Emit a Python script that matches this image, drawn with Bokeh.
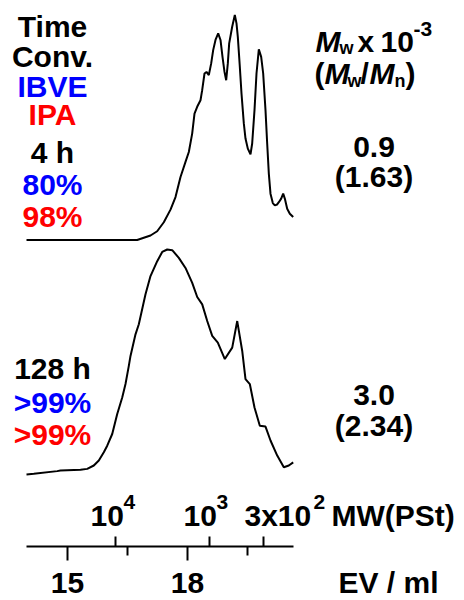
from bokeh.plotting import figure
from bokeh.models import Range1d, LinearAxis, FixedTicker
from bokeh.embed import file_html
from bokeh.resources import INLINE
from bokeh.core.properties import value

# ---------------- data ----------------
EV_4H = [13.975, 16.575, 16.742, 16.908, 17.075, 17.242, 17.408, 17.575, 17.700,
         17.825, 17.950, 18.033, 18.117, 18.175, 18.242, 18.325, 18.367, 18.425,
         18.475, 18.533, 18.592, 18.642, 18.700, 18.767, 18.825, 18.875, 18.925,
         18.967, 19.008, 19.042, 19.117, 19.183, 19.225, 19.258, 19.308, 19.350,
         19.408, 19.450, 19.508, 19.575, 19.617, 19.675, 19.725, 19.783, 19.842,
         19.892, 19.950, 19.992, 20.033, 20.075, 20.133, 20.183, 20.242, 20.283,
         20.342, 20.392, 20.433, 20.492, 20.558, 20.642]
I_4H = [0.0, 0.0, 0.0, 1.0, 2.0, 3.9, 7.9, 13.5, 19.1,
        28.0, 34.7, 39.1, 47.3, 56.2, 59.2, 62.1, 66.6, 74.0,
        74.7, 73.3, 78.5, 84.4, 88.9, 91.8, 88.9, 81.4, 74.7,
        71.0, 78.5, 87.4, 94.8, 100.0, 96.3, 90.3, 77.0, 65.1,
        51.8, 45.1, 40.6, 38.1, 42.9, 57.7, 74.0, 84.7, 81.4,
        74.0, 57.7, 42.9, 29.5, 20.6, 16.4, 15.4, 15.8, 16.8,
        18.4, 20.6, 18.4, 13.9, 11.7, 10.2]

EV_128H = [13.975, 14.158, 14.743, 14.825, 15.325, 15.493, 15.658, 15.783, 15.908,
           15.993, 16.118, 16.243, 16.368, 16.450, 16.533, 16.575, 16.700, 16.783,
           16.950, 17.075, 17.243, 17.368, 17.493, 17.618, 17.783, 17.950, 18.118,
           18.243, 18.368, 18.493, 18.618, 18.758, 18.933, 19.118, 19.243, 19.368,
           19.450, 19.558, 19.675, 19.808, 19.950, 20.075, 20.243, 20.408, 20.533,
           20.643]
I_128H = [0.0, 0.3, 1.5, 1.8, 2.1, 2.5, 4.0, 6.2, 9.9,
          12.8, 18.0, 26.9, 34.2, 40.2, 48.3, 52.7, 62.3, 66.8,
          80.1, 88.2, 94.8, 98.9, 100.0, 99.7, 96.3, 91.8, 85.2,
          78.9, 75.6, 68.2, 61.6, 58.6, 51.3, 56.4, 68.2, 54.9,
          42.4, 40.2, 29.8, 21.7, 21.3, 15.1, 8.4, 3.2, 4.0,
          5.4]

EV_TICKS = [15, 18]
EV_TICK_LABELS = ["15", "18"]
EV_MINOR_TICKS = [16.5, 19.5]
MW_TICK_EV = [16.21, 18.56, 19.91]
MW_TICK_MANTISSA = ["10", "10", "3x10"]
MW_TICK_EXPONENT = ["4", "3", "2"]

RUN_TIME = ["4 h", "128 h"]
CONV_IBVE = ["80%", ">99%"]
CONV_IPA = ["98%", ">99%"]
MW_X1E3 = ["0.9", "3.0"]
MW_MN = ["(1.63)", "(2.34)"]

# ---------------- layout ----------------
W, H = 464, 600
PX_PER_ML = 40.0
X0 = 13.325
FONT = value("Liberation Sans")
FS = 30
BASELINE_FIX = 0.36


def xpx(px):
    return X0 + px / PX_PER_ML


p = figure(width=W, height=H, x_range=Range1d(X0, X0 + W / PX_PER_ML),
           y_range=Range1d(H, 0), min_border=0, toolbar_location=None,
           output_backend="svg", x_axis_type=None, y_axis_type=None,
           outline_line_color=None, background_fill_color="white",
           border_fill_color="white")
p.xgrid.visible = False
p.ygrid.visible = False

BASES = [239.5, 474.0]
SCALE = 2.25
for ev, inten, base in [(EV_4H, I_4H, BASES[0]), (EV_128H, I_128H, BASES[1])]:
    p.line(ev, [base - v * SCALE for v in inten], line_color="black", line_width=2)

AXIS_Y = 545.7
bounds = (xpx(26), xpx(293))
ev_axis = LinearAxis(fixed_location=AXIS_Y, bounds=bounds,
                     ticker=FixedTicker(ticks=EV_TICKS, minor_ticks=EV_MINOR_TICKS),
                     major_label_overrides={t: "" for t in EV_TICKS},
                     axis_line_width=2, axis_line_color="black",
                     major_tick_in=0, major_tick_out=14, major_tick_line_width=2,
                     minor_tick_in=0, minor_tick_out=9, minor_tick_line_width=2)
p.add_layout(ev_axis, "below")

mw_axis = LinearAxis(fixed_location=AXIS_Y, bounds=bounds,
                     ticker=FixedTicker(ticks=MW_TICK_EV, minor_ticks=[]),
                     major_label_overrides={t: "" for t in MW_TICK_EV},
                     axis_line_color=None,
                     major_tick_in=0, major_tick_out=10, major_tick_line_width=2,
                     minor_tick_in=0, minor_tick_out=0)
p.add_layout(mw_axis, "above")


def txt(xs, ys, texts, color="black", size=FS, style="bold", align="left"):
    ys = [y - BASELINE_FIX * size for y in ys]
    p.text(x=xs, y=ys, text=texts, text_color=color, text_font=FONT,
           text_font_size=value(f"{size}px"), text_font_style=style,
           text_align=align, text_baseline="alphabetic", text_line_height=1.0)


txt(EV_TICKS, [593, 593], EV_TICK_LABELS, align="center")
txt([xpx(338)], [593], ["EV / ml"])
txt([xpx(v) for v in (90, 183, 244)], [526] * 3, MW_TICK_MANTISSA)
txt([xpx(v) for v in (123, 216, 313)], [509] * 3, MW_TICK_EXPONENT, size=21)
txt([xpx(331)], [526], ["MW(PSt)"])

LX = xpx(52)
txt([LX, LX], [37, 66.5], ["Time", "Conv."], align="center")
txt([LX], [96.7], ["IBVE"], color="blue", align="center")
txt([LX], [125], ["IPA"], color="red", align="center")
txt([LX, LX], [163, 379], RUN_TIME, align="center")
txt([LX, LX], [194.5, 412.5], CONV_IBVE, color="blue", align="center")
txt([LX, LX], [226.5, 444.5], CONV_IPA, color="red", align="center")

txt([xpx(315)], [52], ["M"], style="bold italic")
txt([xpx(339)], [54], ["w"], size=18)
txt([xpx(357), xpx(380)], [52, 52], ["x", "10"])
txt([xpx(413)], [36], ["-3"], size=21)
txt([xpx(314), xpx(360), xpx(405)], [84, 84, 84], ["(", "/", ")"])
txt([xpx(324), xpx(369)], [84, 84], ["M", "M"], style="bold italic")
txt([xpx(347), xpx(394)], [87, 87], ["w", "n"], size=18)

RX = xpx(373.5)
txt([RX, RX], [157, 405], MW_X1E3, align="center")
txt([RX, RX], [187, 435.5], MW_MN, align="center")

open("out.html", "w").write(file_html(p, INLINE))
